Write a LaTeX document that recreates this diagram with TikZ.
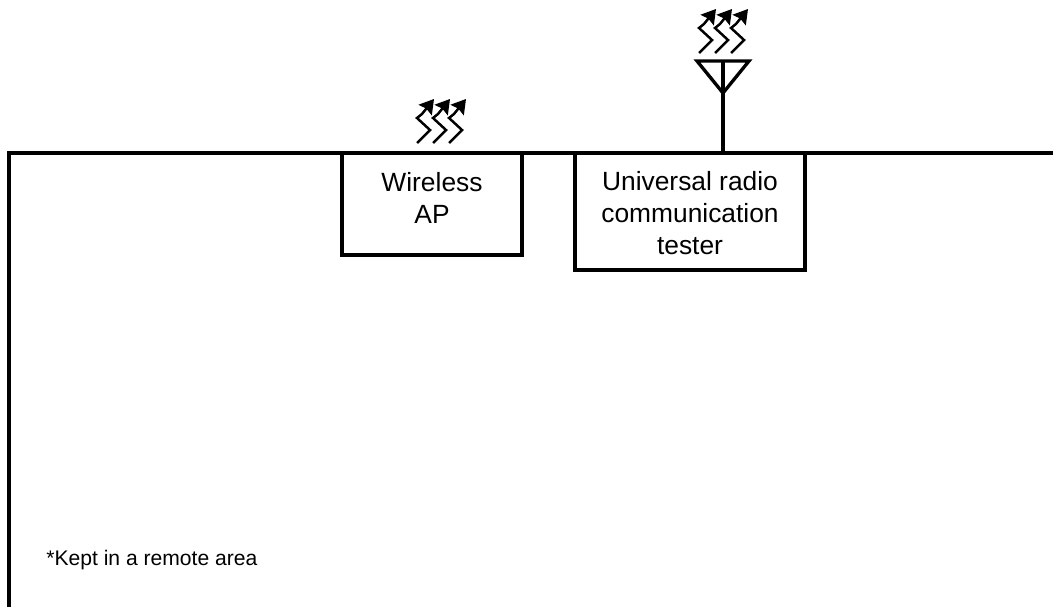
\documentclass[tikz,border=0pt]{standalone}
\usepackage{fontspec}
\setmainfont{Liberation Sans}
\usetikzlibrary{arrows.meta}
\tikzset{
  wall/.style={line width=1.9pt},
  devbox/.style={draw, line width=1.9pt, minimum width=#1, inner sep=0pt, outer sep=0pt},
  boxtext/.style={align=center, font=\fontsize{15}{18.1}\selectfont, inner sep=0pt},
  waves/.pic={
    \foreach \dx in {0,16,32} {
      \draw[line width=1.4pt, -{Stealth[length=8pt,width=9.5pt,inset=1pt]}]
        (\dx,0) -- (\dx+13,-13) -- (\dx,-25) -- (\dx+5,-29) -- (\dx+17,-44);
    }
  }
}
\begin{document}
\begin{tikzpicture}[x=0.02cm, y=-0.02cm]
  \useasboundingbox (0,0) rectangle (1053,606);

  % Room outline
  \coordinate (roomtl) at (9,153);
  \coordinate (roomtr) at (1053,153);
  \coordinate (roombl) at (9,606);
  \draw[wall, line cap=rect] (roombl) -- (roomtl) -- (roomtr);

  % Wireless AP
  \node[devbox=3.6cm, minimum height=2.04cm, anchor=north west] (ap) at (342,153) {};
  \node[boxtext] (aptext) at (432,198) {Wireless\\AP};
  \pic at (417,143) {waves};

  % Tester and its antenna
  \node[devbox=4.6cm, minimum height=2.34cm, anchor=north west] (tester) at (575,153) {};
  \node[boxtext] (testertext) at (690,213) {Universal radio\\communication\\tester};
  \coordinate (antl) at (697,61);
  \coordinate (antr) at (749,61);
  \coordinate (anttip) at (723,93);
  \coordinate (anttop) at (723,61);
  \coordinate (antfoot) at (723,153);
  \draw[wall] (antl) -- (antr) -- (anttip) -- cycle;
  \draw[wall] (anttop) -- (antfoot);
  \pic at (699,53) {waves};

  % Note
  \node[anchor=west, inner sep=0pt, font=\fontsize{12}{14}\selectfont] (note) at (46,560) {*Kept in a remote area};
\end{tikzpicture}
\end{document}
